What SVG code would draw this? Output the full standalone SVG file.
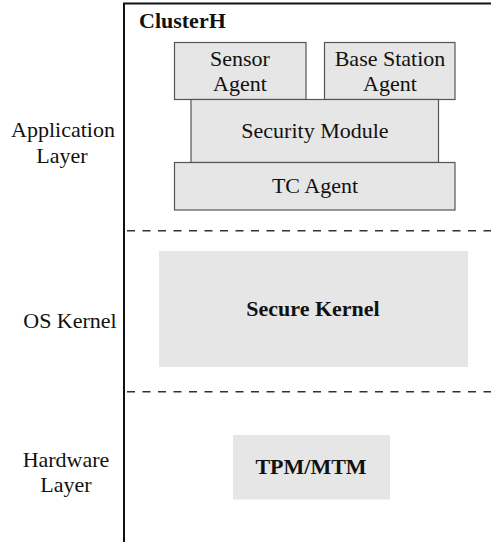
<svg xmlns="http://www.w3.org/2000/svg" width="491" height="542" viewBox="0 0 491 542">
<style>
text{font-size:22px;fill:#111;}
.b{font-weight:bold;}
.m{text-anchor:middle;}
.box{fill:#e6e6e6;stroke:#555;stroke-width:1.2;}
.flat{fill:#e6e6e6;}
.dash{stroke:#333;stroke-width:1.4;stroke-dasharray:8 7.5;fill:none;}
.frame{stroke:#111;stroke-width:2;fill:none;}
</style>
<rect width="491" height="542" fill="#fff"/>
<g font-family="Liberation Serif, serif">
<g id="frame">
<path class="frame" d="M124 542 V3.5 H491"/>
<text x="139" y="28" class="b">ClusterH</text>
</g>
<g id="separators">
<line class="dash" x1="127" y1="230.7" x2="491" y2="230.7"/>
<line class="dash" x1="127" y1="391.7" x2="491" y2="391.7"/>
</g>
<g id="layer-labels">
<text class="m" x="63" y="137">Application</text>
<text class="m" x="62" y="163">Layer</text>
<text class="m" x="70" y="328">OS Kernel</text>
<text class="m" x="66" y="467">Hardware</text>
<text class="m" x="66" y="492">Layer</text>
</g>
<g id="sensor-agent">
<rect class="box" x="174.5" y="42.5" width="131.5" height="57"/>
<text class="m" x="240" y="66">Sensor</text>
<text class="m" x="240" y="91">Agent</text>
</g>
<g id="base-station-agent">
<rect class="box" x="324.5" y="42.5" width="130.5" height="57"/>
<text class="m" x="390" y="66">Base Station</text>
<text class="m" x="390" y="91">Agent</text>
</g>
<g id="security-module">
<rect class="box" x="191" y="99.5" width="247.5" height="63"/>
<text class="m" x="315" y="138">Security Module</text>
</g>
<g id="tc-agent">
<rect class="box" x="174.5" y="162.5" width="280.5" height="47.5"/>
<text class="m" x="315" y="193">TC Agent</text>
</g>
<g id="secure-kernel">
<rect class="flat" x="159" y="251" width="309" height="116"/>
<text class="m b" x="313" y="316">Secure Kernel</text>
</g>
<g id="tpm-mtm">
<rect class="flat" x="233" y="435" width="157" height="64.5"/>
<text class="m b" x="311" y="474">TPM/MTM</text>
</g>
</g>
</svg>
